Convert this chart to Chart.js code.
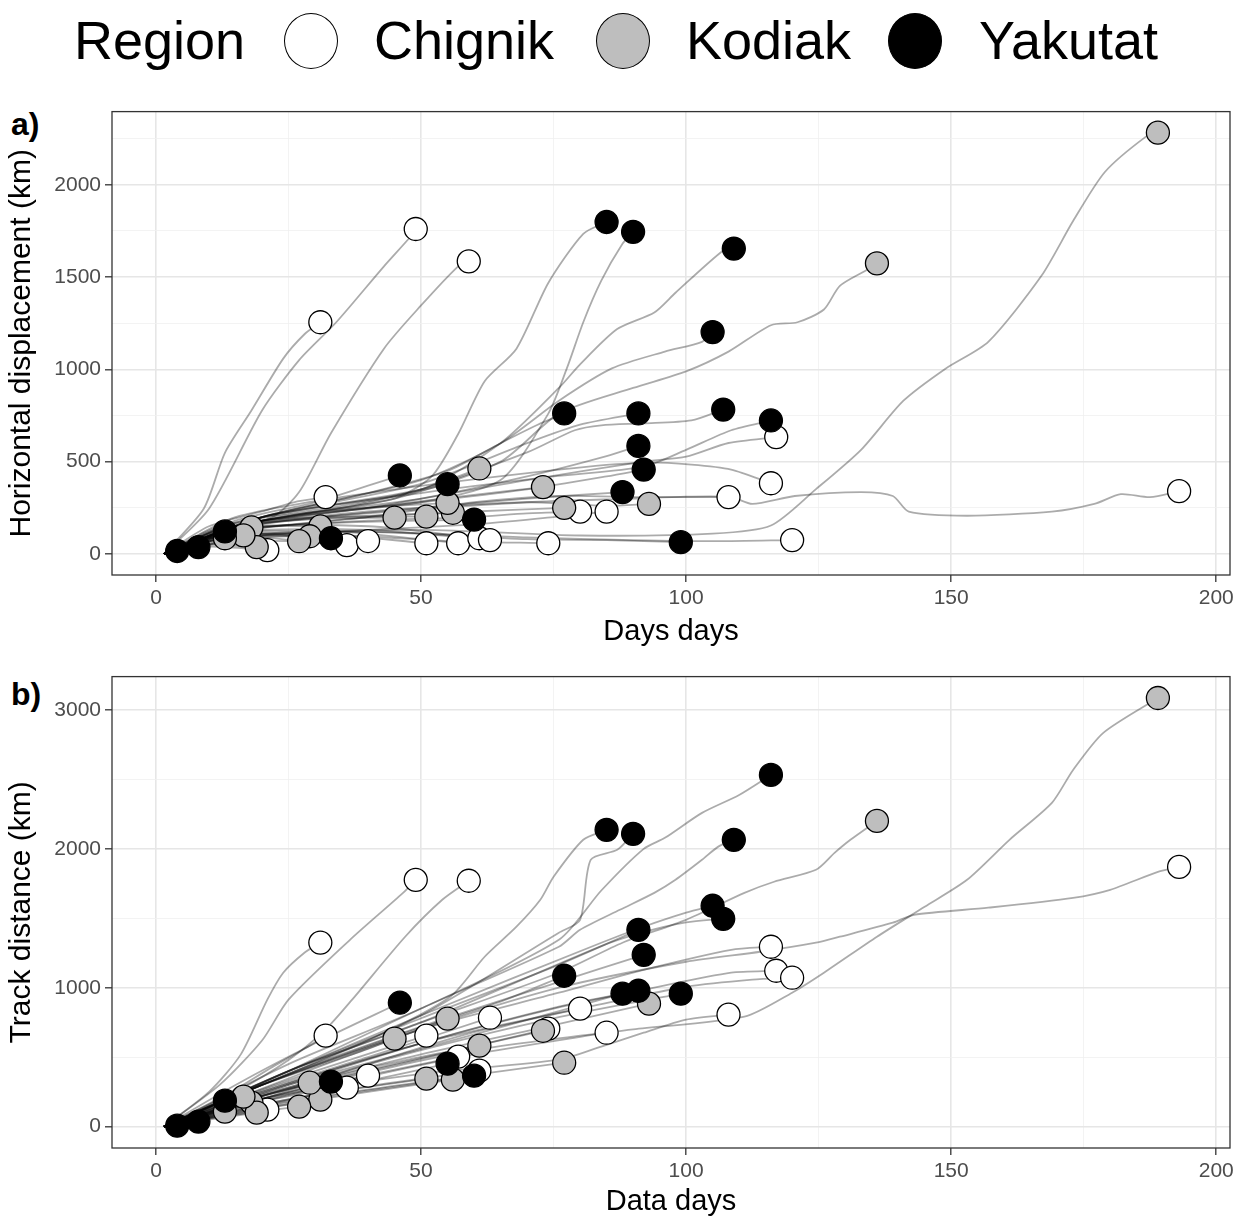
<!DOCTYPE html>
<html lang="en">
<head>
<meta charset="UTF-8">
<title>Displacement and track distance by region</title>
<script src="https://cdn.jsdelivr.net/npm/chart.js"></script>
<style>
  body { margin: 0; background: #fff; font-family: "Liberation Sans", Arial, sans-serif; }
  #page { position: relative; width: 1247px; height: 1222px; }
  canvas { position: absolute; left: 0; }
  .panel { position: absolute; left: 11px; font-weight: bold; font-size: 32px; line-height: 32px; }
  .leg { position: absolute; top: 13px; font-size: 54px; line-height: 54px; color: #000; }
  .key { position: absolute; top: 13px; width: 54px; height: 56px; border: 1.5px solid #000;
         border-radius: 50%; box-sizing: border-box; }
</style>
</head>
<body>
<div id="page">
  <div class="leg" style="left:74px">Region</div>
  <div class="key" style="left:284px;background:#ffffff"></div>
  <div class="leg" style="left:374px">Chignik</div>
  <div class="key" style="left:596px;background:#bebebe"></div>
  <div class="leg" style="left:686px">Kodiak</div>
  <div class="key" style="left:888px;background:#000000"></div>
  <div class="leg" style="left:979px">Yakutat</div>

  <div class="panel" style="top:108px">a)</div>
  <div class="panel" style="top:678px">b)</div>

  <canvas id="horizChart" width="1247" height="560" style="top:95px"></canvas>
  <canvas id="trackChart" width="1247" height="562" style="top:660px"></canvas>
</div>

<script>
  // 0 = Chignik, 1 = Kodiak, 2 = Yakutat
  const regions = ["Chignik", "Kodiak", "Yakutat"];
  const trackRegion = [
    0,0,0,0,0,0,0,0,0,0,0,0,0,0,0,0,0,0,0,
    1,1,1,1,1,1,1,1,1,1,1,1,1,1,1,1,1,
    2,2,2,2,2,2,2,2,2,2,2,2,2,2,2,2,2,2,2
  ];

  // panel a: [day, horizontal displacement km]
  const horizontalPaths = [
    [[1.5,0],[9,245],[13,548],[18,777],[24,1058],[28,1190],[31,1255]],
    [[1.5,0],[10,245],[20,777],[27,1050],[34,1255],[43,1558],[48,1718],[49,1760]],
    [[1.5,0],[12,120],[22,200],[27,335],[33,654],[43,1112],[50,1346],[57,1558],[59,1585]],
    [[1.5,0],[10,150],[20,230],[26,280],[32,308]],
    [[1.5,0],[15,150],[40,250],[70,400],[92,500],[100,527],[108,601],[117,633]],
    [[1.5,0],[15,200],[40,330],[76,457],[92,495],[101,484],[108.5,457],[116,383]],
    [[1.5,0],[15,120],[40,200],[60,280],[76,314],[92,308],[108,308]],
    [[1.5,0],[15,150],[40,220],[70,280],[90,300],[100,310],[108.5,308],[112.5,271],[120.5,314],[133,335],[139,314],[142,229],[153,207],[169,229],[177,271],[182,324],[187.5,308],[193,340]],
    [[1.5,0],[15,100],[40,120],[70,90],[90,75],[106,69],[120,75]],
    [[1.5,0],[15,130],[40,180],[60,200],[70,220],[80,229]],
    [[1.5,0],[15,90],[40,130],[60,160],[75,200],[85,229]],
    [[1.5,0],[15,80],[35,100],[55,70],[74,58]],
    [[1.5,0],[12,60],[25,70],[36,48]],
    [[1.5,0],[12,80],[25,100],[40,70]],
    [[1.5,0],[10,40],[21,21]],
    [[1.5,0],[12,90],[30,110],[51,58]],
    [[1.5,0],[12,110],[35,120],[57,58]],
    [[1.5,0],[15,140],[40,150],[61,85]],
    [[1.5,0],[15,120],[40,130],[63,75]],

    [[1.5,0],[20,100],[50,130],[80,100],[105,110],[116,154],[124.5,351],[133,564],[141,830],[149,1005],[157,1149],[167,1505],[173,1803],[179,2069],[187,2266],[189,2282]],
    [[1.5,0],[20,180],[45,300],[65,500],[76,760],[90,899],[100,989],[108,1096],[116,1239],[121,1255],[126,1324],[129,1452],[134,1537],[136,1574]],
    [[1.5,0],[15,150],[35,250],[50,350],[61,463]],
    [[1.5,0],[15,150],[40,250],[60,320],[73,362]],
    [[1.5,0],[15,120],[40,200],[60,230],[77,250]],
    [[1.5,0],[15,140],[40,230],[70,280],[85,260],[93,271]],
    [[1.5,0],[12,130],[30,190],[45,197]],
    [[1.5,0],[12,150],[30,200],[51,202]],
    [[1.5,0],[12,140],[35,200],[56,223]],
    [[1.5,0],[15,170],[35,240],[55,277]],
    [[1.5,0],[12,130],[22,150],[31,149]],
    [[1.5,0],[12,100],[20,110],[29,96]],
    [[1.5,0],[12,80],[20,90],[27,69]],
    [[1.5,0],[10,110],[18,144]],
    [[1.5,0],[10,50],[19,37]],
    [[1.5,0],[9,80],[16.5,101]],
    [[1.5,0],[8,60],[13,85]],

    [[1.5,0],[15,150],[30,230],[45,300],[52,420],[57,650],[62,936],[68,1112],[74,1468],[80.6,1734],[85,1798]],
    [[1.5,0],[20,180],[50,280],[65,400],[74,760],[77.5,1005],[80.6,1255],[84,1480],[88,1680],[90,1745]],
    [[1.5,0],[20,200],[50,350],[65,600],[76,899],[80,1027],[87,1218],[94,1308],[98,1415],[107,1644],[109,1654]],
    [[1.5,0],[20,200],[50,400],[65,600],[76,830],[86,1005],[96,1096],[103,1149],[105,1202]],
    [[1.5,0],[20,200],[50,330],[75,420],[92,473],[100,564],[108.5,670],[116,723]],
    [[1.5,0],[20,200],[50,350],[70,550],[79,670],[84,697],[92,707],[101,723],[107,782]],
    [[1.5,0],[20,200],[40,330],[55,450],[65,600],[72,700],[77,761]],
    [[1.5,0],[20,200],[50,380],[70,600],[80,700],[91,761]],
    [[1.5,0],[20,180],[50,300],[70,420],[85,530],[91,585]],
    [[1.5,0],[20,180],[50,280],[70,350],[85,420],[92,457]],
    [[1.5,0],[20,160],[50,250],[70,300],[88,335]],
    [[1.5,0],[15,100],[40,120],[70,80],[85,75],[99,64]],
    [[1.5,0],[15,180],[30,280],[40,370],[46,425]],
    [[1.5,0],[15,170],[35,260],[48,330],[55,378]],
    [[1.5,0],[15,130],[35,170],[60,186]],
    [[1.5,0],[12,90],[22,100],[33,85]],
    [[1.5,0],[8,80],[13,122]],
    [[1.5,0],[5,20],[8,37]],
    [[1.5,0],[4,16]]
  ];

  // panel b: [day, track distance km]
  const trackPaths = [
    [[1.5,0],[10,250],[16,520],[21,914],[24,1108],[28,1252],[31,1325]],
    [[1.5,0],[12,300],[20,620],[25,914],[36.6,1345],[46.6,1683],[49,1777]],
    [[1.5,0],[15,250],[25,480],[32,700],[37,914],[47,1367],[54,1633],[59,1770]],
    [[1.5,0],[12,200],[22,430],[28,560],[32,655]],
    [[1.5,0],[20,250],[50,600],[76,863],[92,986],[108.5,1108],[117,1122]],
    [[1.5,0],[20,300],[50,700],[76,964],[92,1129],[108.5,1273],[116,1295]],
    [[1.5,0],[20,200],[50,380],[76,482],[84,576],[92,676],[100,770],[108,806]],
    [[1.5,0],[20,300],[50,700],[76,1000],[100,1187],[114,1259],[124.5,1324],[129,1367],[139,1468],[143,1525],[157,1576],[173,1647],[180,1705],[189,1834],[193,1870]],
    [[1.5,0],[20,250],[50,600],[88,914],[100,1007],[112.5,1058],[120,1072]],
    [[1.5,0],[20,200],[40,450],[60,680],[80,849]],
    [[1.5,0],[20,180],[40,360],[60,520],[85,676]],
    [[1.5,0],[20,220],[40,420],[60,580],[74,705]],
    [[1.5,0],[15,110],[25,190],[36,281]],
    [[1.5,0],[15,140],[28,260],[40,367]],
    [[1.5,0],[10,60],[21,122]],
    [[1.5,0],[15,200],[30,400],[51,655]],
    [[1.5,0],[20,200],[40,370],[57,504]],
    [[1.5,0],[20,160],[40,290],[61,403]],
    [[1.5,0],[20,260],[40,500],[63,784]],

    [[1.5,0],[30,300],[60,550],[90,700],[111,791],[120,964],[126,1108],[136,1367],[145,1583],[153,1777],[161,2065],[169,2331],[173,2568],[178.7,2835],[189,3086]],
    [[1.5,0],[25,400],[50,750],[76,1108],[88,1324],[100,1489],[111,1683],[116.6,1763],[124.5,1849],[128,1971],[131,2065],[136,2201]],
    [[1.5,0],[20,220],[40,400],[61,583]],
    [[1.5,0],[20,220],[45,450],[73,690]],
    [[1.5,0],[20,150],[50,320],[77,460]],
    [[1.5,0],[20,230],[50,520],[75,730],[93,885]],
    [[1.5,0],[15,200],[30,420],[45,633]],
    [[1.5,0],[15,120],[30,230],[51,345]],
    [[1.5,0],[20,130],[40,250],[56,338]],
    [[1.5,0],[20,300],[40,560],[55,777]],
    [[1.5,0],[12,80],[22,140],[31,194]],
    [[1.5,0],[12,130],[20,220],[29,316]],
    [[1.5,0],[12,70],[20,110],[27,144]],
    [[1.5,0],[10,90],[18,173]],
    [[1.5,0],[10,50],[19,101]],
    [[1.5,0],[9,110],[16.5,216]],
    [[1.5,0],[8,60],[13,108]],

    [[1.5,0],[20,300],[40,620],[55.5,935],[62,1223],[68,1439],[72.5,1633],[75,1799],[80.6,2065],[85,2137]],
    [[1.5,0],[20,300],[50,800],[76,1396],[80,1489],[82,1921],[87,1993],[90,2108]],
    [[1.5,0],[25,400],[50,850],[76,1295],[80,1417],[87.5,1561],[94,1683],[98,1777],[103,1921],[106,2014],[109,2065]],
    [[1.5,0],[25,400],[50,800],[84,1324],[92,1439],[100,1540],[105,1590]],
    [[1.5,0],[25,450],[50,850],[76,1345],[84,1700],[92,2000],[96,2079],[103,2259],[110,2388],[116,2532]],
    [[1.5,0],[25,400],[50,750],[84,1300],[92,1400],[100,1470],[107,1496]],
    [[1.5,0],[20,300],[45,650],[65,900],[77,1086]],
    [[1.5,0],[25,400],[50,780],[75,1150],[91,1417]],
    [[1.5,0],[25,300],[50,600],[75,850],[91,978]],
    [[1.5,0],[25,380],[50,720],[75,1030],[92,1237]],
    [[1.5,0],[25,300],[50,560],[75,820],[88,957]],
    [[1.5,0],[25,280],[50,550],[75,780],[99,957]],
    [[1.5,0],[15,300],[30,600],[46,892]],
    [[1.5,0],[20,180],[40,330],[55,453]],
    [[1.5,0],[20,140],[40,260],[60,367]],
    [[1.5,0],[12,120],[22,220],[33,324]],
    [[1.5,0],[8,100],[13,187]],
    [[1.5,0],[5,18],[8,36]],
    [[1.5,0],[4,7]]
  ];

  const dayTicks = [0, 25, 50, 75, 100, 125, 150, 175, 200];
  const horizontalTicks = [0, 250, 500, 750, 1000, 1250, 1500, 1750, 2000, 2250];
  const trackTicks = [0, 500, 1000, 1500, 2000, 2500, 3000];

  const fills = ["#ffffff", "#bebebe", "#000000"];
  const font = "'Liberation Sans', Arial, sans-serif";

  const panelBorder = {
    id: "panelBorder",
    afterDraw(chart) {
      const { ctx, chartArea: a } = chart;
      ctx.save();
      ctx.strokeStyle = "#333333";
      ctx.lineWidth = 1.3;
      ctx.strokeRect(a.left, a.top, a.right - a.left, a.bottom - a.top);
      ctx.restore();
    }
  };

  function axisGrid(major) {
    return {
      color: c => (c.tick && c.tick.value % major === 0) ? "#e6e6e6" : "#f0f0f0",
      lineWidth: c => (c.tick && c.tick.value % major === 0) ? 1.6 : 0.8,
      tickColor: c => (c.tick && c.tick.value % major === 0) ? "#333333" : "rgba(0,0,0,0)",
      tickLength: 7,
      tickWidth: 1.3
    };
  }

  function drawPanel(id, paths, yMin, yMax, yTicks, yMajor, yTitle, xTitle, topPad, xHeight, xTitlePad) {
    const datasets = [];
    regions.forEach((name, r) => {
      const ends = [];
      paths.forEach((p, i) => {
        if (trackRegion[i] === r) {
          const last = p[p.length - 1];
          ends.push({ x: last[0], y: last[1] });
        }
      });
      datasets.push({
        label: name,
        data: ends,
        order: 2 - r,
        pointRadius: 11.5,
        pointHoverRadius: 11.5,
        pointBackgroundColor: fills[r],
        pointBorderColor: "#000000",
        pointBorderWidth: 1.3,
        showLine: false
      });
    });
    paths.forEach(p => {
      datasets.push({
        data: p.map(pt => ({ x: pt[0], y: pt[1] })),
        order: 10,
        showLine: true,
        borderColor: "rgba(0,0,0,0.33)",
        borderWidth: 1.8,
        pointRadius: 0,
        tension: 0.25
      });
    });

    new Chart(document.getElementById(id), {
      type: "scatter",
      data: { datasets },
      plugins: [panelBorder],
      options: {
        responsive: false,
        animation: false,
        devicePixelRatio: 1,
        layout: { padding: { top: topPad, right: 17, left: 0, bottom: 0 } },
        plugins: { legend: { display: false }, tooltip: { enabled: false } },
        scales: {
          x: {
            type: "linear",
            min: -8.3,
            max: 202.6,
            afterBuildTicks: s => { s.ticks = dayTicks.map(v => ({ value: v })); },
            afterFit: s => { s.height = xHeight; },
            grid: axisGrid(50),
            border: { display: false },
            ticks: {
              autoSkip: false, maxRotation: 0, padding: 4,
              color: "#4d4d4d", font: { family: font, size: 21 },
              callback: v => (v % 50 === 0 ? String(v) : "")
            },
            title: {
              display: true, text: xTitle, color: "#000000",
              font: { family: font, size: 29 },
              padding: { top: 0, bottom: xTitlePad }
            }
          },
          y: {
            type: "linear",
            min: yMin,
            max: yMax,
            afterBuildTicks: s => { s.ticks = yTicks.map(v => ({ value: v })); },
            afterFit: s => { s.width = 112; },
            grid: axisGrid(yMajor),
            border: { display: false },
            ticks: {
              autoSkip: false, padding: 4,
              color: "#4d4d4d", font: { family: font, size: 21 },
              callback: v => (v % yMajor === 0 ? String(v) : "")
            },
            title: {
              display: true, text: yTitle, color: "#000000",
              font: { family: font, size: 30 },
              padding: { top: 4, bottom: 0 }
            }
          }
        }
      }
    });
  }

  drawPanel("horizChart", horizontalPaths, -114, 2396, horizontalTicks, 500,
    "Horizontal displacement (km)", "Days days", 10, 80, 6);
  drawPanel("trackChart", trackPaths, -154, 3240, trackTicks, 1000,
    "Track distance (km)", "Data days", 16, 74, 3);
</script>
</body>
</html>
